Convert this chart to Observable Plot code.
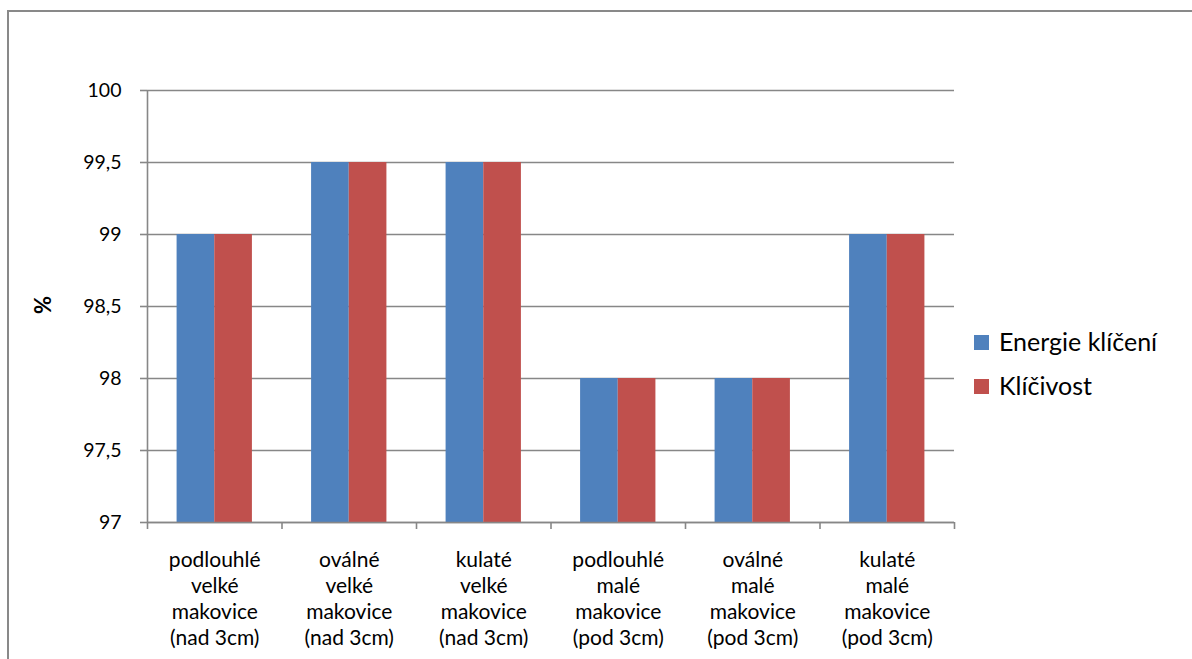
<!DOCTYPE html>
<html>
<head>
<meta charset="utf-8">
<script src="https://cdn.jsdelivr.net/npm/d3@7"></script>
<script src="https://cdn.jsdelivr.net/npm/@observablehq/plot@0.6"></script>
<style>
  html, body { margin: 0; padding: 0; background: #fff; overflow: hidden; }
  #wrap { position: relative; width: 1192px; height: 659px; font-family: Lato, sans-serif; }
  #frame { position: absolute; left: 7px; top: 10px; width: 1200px; height: 700px; border: 2px solid #898989; box-sizing: border-box; pointer-events: none; }
  .ylab { position: absolute; left: 42px; top: 305px; transform: translate(-50%, -50%) rotate(-90deg); font-weight: bold; font-size: 22px; color: #000; }
  .sw { position: absolute; width: 15px; height: 15px; }
  .lt { position: absolute; left: 999px; font-size: 25px; line-height: 25px; color: #000; white-space: nowrap; }
</style>
</head>
<body>
<div id="wrap">
  <div id="chart"></div>
  <div id="frame"></div>
  <div class="ylab">%</div>
  <div id="legend"></div>
</div>
<script>
// ---- data ----
const categories = [
  "podlouhlé\nvelké\nmakovice\n(nad 3cm)",
  "oválné\nvelké\nmakovice\n(nad 3cm)",
  "kulaté\nvelké\nmakovice\n(nad 3cm)",
  "podlouhlé\nmalé\nmakovice\n(pod 3cm)",
  "oválné\nmalé\nmakovice\n(pod 3cm)",
  "kulaté\nmalé\nmakovice\n(pod 3cm)"
];
const seriesNames = ["Energie klíčení", "Klíčivost"];
const energieKliceni = [99, 99.5, 99.5, 98, 98, 99];
const klicivost = [99, 99.5, 99.5, 98, 98, 99];
const yTicks = [97, 97.5, 98, 98.5, 99, 99.5, 100];
const colors = ["#4F81BD", "#C0504D"];

// ---- layout constants ----
const gapFrac = 0.22;   // empty space on each side of a bar pair (fraction of category)
const barFrac = 0.28;   // width of one bar (fraction of category)
const yMin = 97, yMax = 100;

const seriesValues = [energieKliceni, klicivost];
const rows = [];
categories.forEach((c, i) => {
  seriesValues.forEach((vals, s) => {
    rows.push({ i, s, series: seriesNames[s], value: vals[i] });
  });
});

const grid = "#878787";

const chart = Plot.plot({
  width: 1192,
  height: 659,
  marginLeft: 147,
  marginRight: 238,
  marginTop: 90,
  marginBottom: 137,
  style: { fontFamily: "Lato, sans-serif", fontSize: "19px", color: "#000", background: "transparent", overflow: "visible" },
  x: { type: "linear", domain: [0, categories.length], label: null },
  y: { domain: [yMin, yMax], label: null },
  color: { domain: seriesNames, range: colors },
  marks: [
    Plot.ruleY(yTicks, { stroke: grid, strokeWidth: 1.6 }),
    Plot.rectY(rows, {
      x1: d => d.i + gapFrac + d.s * barFrac,
      x2: d => d.i + gapFrac + (d.s + 1) * barFrac,
      y1: () => yMin,
      y2: "value",
      fill: "series"
    }),
    Plot.ruleX([0], { stroke: grid, strokeWidth: 1.6 }),
    Plot.ruleY([yMin], { stroke: grid, strokeWidth: 1.6 }),
    Plot.axisY({
      ticks: yTicks,
      tickSize: 7,
      tickPadding: 19,
      stroke: grid,
      strokeWidth: 1.6,
      fill: "#000",
      fontSize: 19.5,
      tickFormat: d => String(d).replace(".", ","),
      label: null
    }),
    Plot.axisX({
      ticks: d3.range(0, categories.length + 1),
      tickSize: 7,
      stroke: grid,
      strokeWidth: 1.6,
      tickFormat: () => "",
      label: null
    }),
    Plot.axisX({
      ticks: d3.range(categories.length).map(i => i + 0.5),
      tickSize: 0,
      tickPadding: 26,
      fill: "#000",
      fontSize: 21,
      lineHeight: 1.24,
      tickFormat: d => categories[Math.floor(d)],
      label: null
    })
  ]
});
document.getElementById("chart").appendChild(chart);

// legend (HTML)
const legend = document.getElementById("legend");
const legTops = [335, 379];
seriesNames.forEach((name, k) => {
  const sw = document.createElement("div");
  sw.className = "sw";
  sw.style.left = "974px";
  sw.style.top = legTops[k] + "px";
  sw.style.background = colors[k];
  legend.appendChild(sw);
  const t = document.createElement("div");
  t.className = "lt";
  t.style.top = (legTops[k] - 6) + "px";
  t.textContent = name;
  legend.appendChild(t);
});
</script>
</body>
</html>
